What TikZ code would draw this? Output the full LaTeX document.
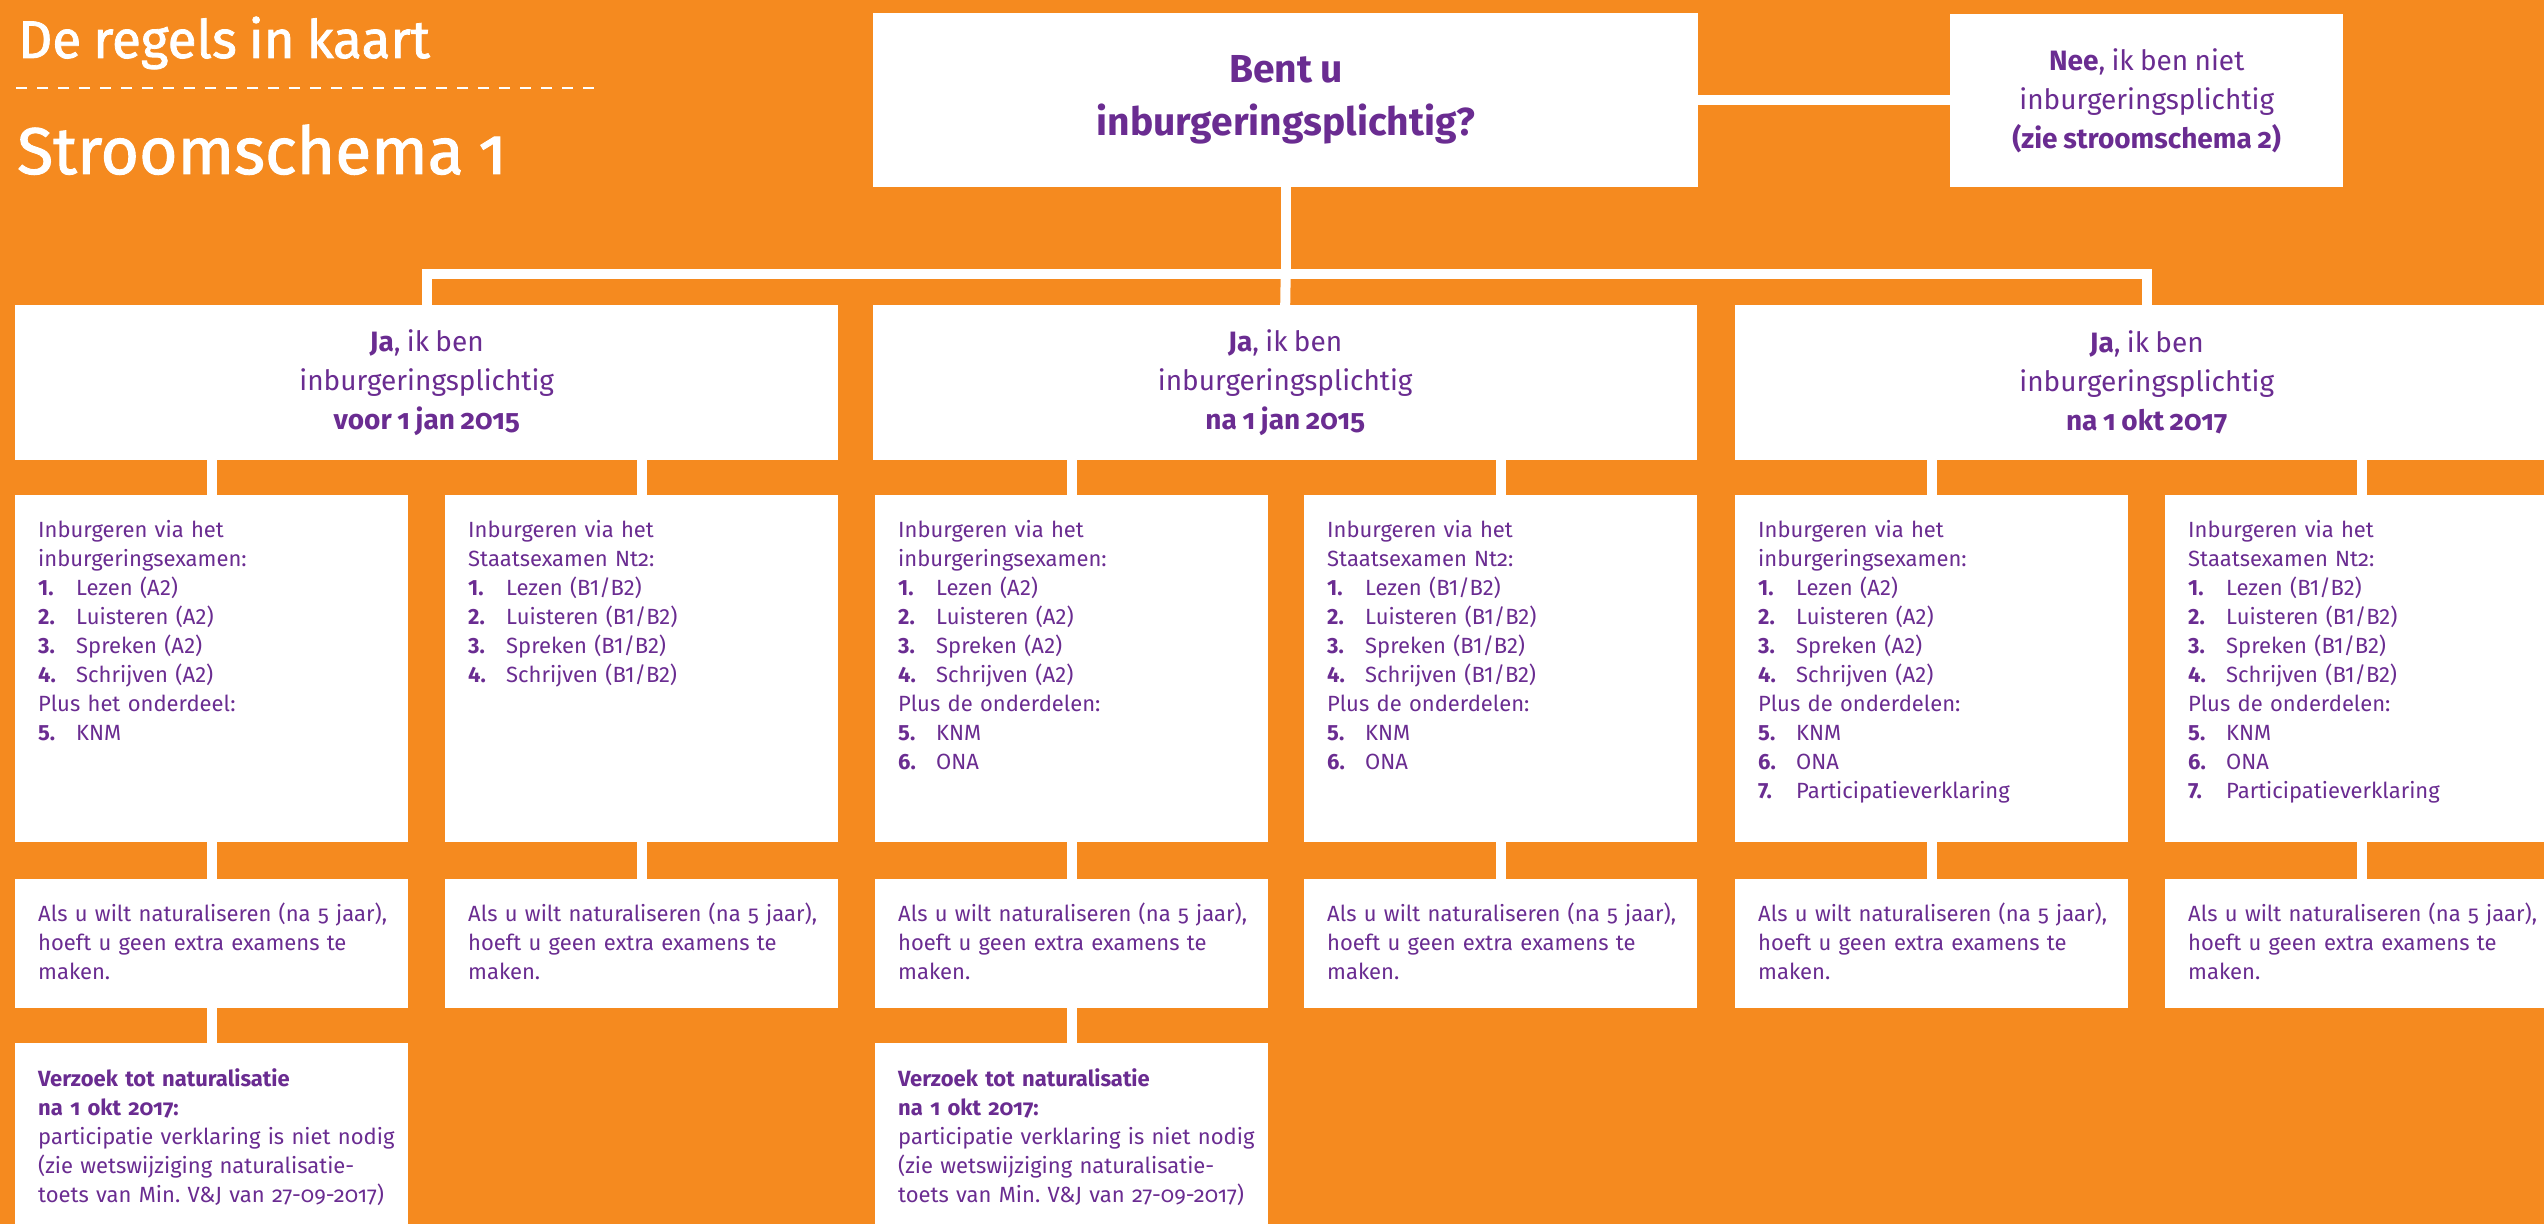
\documentclass[tikz,border=0pt]{standalone}
\usepackage{fontspec}
\setmainfont{Fira Sans}[Numbers=Lining, WordSpace=0.85]
\usetikzlibrary{positioning}
\definecolor{oranje}{HTML}{F58A1F}
\definecolor{paars}{HTML}{6A2C91}
\newcommand{\osf}[1]{{\addfontfeatures{Numbers=OldStyle}#1}}
\newcommand{\nr}[1]{\makebox[38pt][l]{\textbf{#1.}}}
\newcommand{\natuur}{Als u wilt naturaliseren (na \osf{5} jaar),\\hoeft u geen extra examens te\\maken.}
\newcommand{\verzoek}{\textbf{Verzoek tot naturalisatie}\\\textbf{\osf{na 1 okt 2017:}}\\participatie verklaring is niet nodig\\(zie wetswijziging naturalisatie-\\toets van Min.\ V\&J van \osf{27-09-2017})}
\tikzset{box/.style={fill=white, anchor=north west, inner sep=0pt, minimum width=393pt}}
\tikzset{exam/.style={box, minimum height=347pt}}
\tikzset{nat/.style={box, minimum height=129pt}}
\tikzset{verz/.style={box, minimum height=200pt}}
\tikzset{kop/.style={box, minimum width=823pt, minimum height=155pt, align=center, text=paars, font=\fontsize{28}{39}\selectfont}}
\tikzset{txt/.style={inner sep=0pt, text width=375pt, align=left, text=paars, font=\fontsize{22}{29}\selectfont}}
\tikzset{link/.style={draw=white, line width=10pt}}
\tikzset{titel/.style={anchor=base west, inner sep=0pt, text=white}}

\begin{document}
\begin{tikzpicture}[x=1pt, y=1pt]
    \useasboundingbox (0,0) rectangle (2544,1224);
    \clip (0,0) rectangle (2544,1224);
    \fill[oranje] (0,0) rectangle (2544,1224);

    \node[titel, font=\addfontfeatures{FakeBold=1.5}\fontsize{53}{58}\selectfont] (kaart) at (18,1166) {De regels in kaart};
    \draw[white, line width=2pt, dash pattern=on 11pt off 10pt] (16,1136) -- (595,1136);
    \node[titel, font=\addfontfeatures{FakeBold=1.5}\fontsize{66}{72}\selectfont] (schema) at (17,1050) {Stroomschema \osf{1}};

    % vraag en nee
    \node[kop, minimum width=825pt, minimum height=174pt, font=\bfseries\fontsize{39}{53}\selectfont] (vraag) at (873,1211) {Bent u\\inburgeringsplichtig?};
    \node[kop, minimum width=393pt, minimum height=173pt] (nee) at (1950,1210) {\textbf{Nee}, ik ben niet\\inburgeringsplichtig\\\textbf{\osf{(zie stroomschema 2)}}};

    % ja
    \node[kop] (ja1) at (15,919) {\textbf{Ja}, ik ben\\inburgeringsplichtig\\\textbf{\osf{voor 1 jan 2015}}};
    \node[kop, minimum width=824pt] (ja2) at (873,919) {\textbf{Ja}, ik ben\\inburgeringsplichtig\\\textbf{\osf{na 1 jan 2015}}};
    \node[kop] (ja3) at (1735,919) {\textbf{Ja}, ik ben\\inburgeringsplichtig\\\textbf{\osf{na 1 okt 2017}}};

    % examens
    \node[exam] (ex1) at (15,729) {};
    \node[exam] (nt1) at (445,729) {};
    \node[exam] (ex2) at (875,729) {};
    \node[exam] (nt2) at (1304,729) {};
    \node[exam] (ex3) at (1735,729) {};
    \node[exam] (nt3) at (2165,729) {};

    \node[txt, below right=25pt and 23pt of ex1.north west] (ex1t) {Inburgeren via het\\inburgeringsexamen:\\\nr{1}Lezen (A2)\\\nr{2}Luisteren (A2)\\\nr{3}Spreken (A2)\\\nr{4}Schrijven (A2)\\Plus het onderdeel:\\\nr{5}KNM};
    \node[txt, below right=25pt and 23pt of nt1.north west] (nt1t) {Inburgeren via het\\Staatsexamen Nt\osf{2}:\\\nr{1}Lezen (B1/B2)\\\nr{2}Luisteren (B1/B2)\\\nr{3}Spreken (B1/B2)\\\nr{4}Schrijven (B1/B2)};
    \node[txt, below right=25pt and 23pt of ex2.north west] (ex2t) {Inburgeren via het\\inburgeringsexamen:\\\nr{1}Lezen (A2)\\\nr{2}Luisteren (A2)\\\nr{3}Spreken (A2)\\\nr{4}Schrijven (A2)\\Plus de onderdelen:\\\nr{5}KNM\\\nr{6}ONA};
    \node[txt, below right=25pt and 23pt of nt2.north west] (nt2t) {Inburgeren via het\\Staatsexamen Nt\osf{2}:\\\nr{1}Lezen (B1/B2)\\\nr{2}Luisteren (B1/B2)\\\nr{3}Spreken (B1/B2)\\\nr{4}Schrijven (B1/B2)\\Plus de onderdelen:\\\nr{5}KNM\\\nr{6}ONA};
    \node[txt, below right=25pt and 23pt of ex3.north west] (ex3t) {Inburgeren via het\\inburgeringsexamen:\\\nr{1}Lezen (A2)\\\nr{2}Luisteren (A2)\\\nr{3}Spreken (A2)\\\nr{4}Schrijven (A2)\\Plus de onderdelen:\\\nr{5}KNM\\\nr{6}ONA\\\nr{7}Participatieverklaring};
    \node[txt, below right=25pt and 23pt of nt3.north west] (nt3t) {Inburgeren via het\\Staatsexamen Nt\osf{2}:\\\nr{1}Lezen (B1/B2)\\\nr{2}Luisteren (B1/B2)\\\nr{3}Spreken (B1/B2)\\\nr{4}Schrijven (B1/B2)\\Plus de onderdelen:\\\nr{5}KNM\\\nr{6}ONA\\\nr{7}Participatieverklaring};

    % naturaliseren
    \node[nat] (nat1) at (15,345) {};
    \node[nat] (nat2) at (445,345) {};
    \node[nat] (nat3) at (875,345) {};
    \node[nat] (nat4) at (1304,345) {};
    \node[nat] (nat5) at (1735,345) {};
    \node[nat] (nat6) at (2165,345) {};

    \node[txt, below right=24pt and 23pt of nat1.north west] (nat1t) {\natuur};
    \node[txt, below right=24pt and 23pt of nat2.north west] (nat2t) {\natuur};
    \node[txt, below right=24pt and 23pt of nat3.north west] (nat3t) {\natuur};
    \node[txt, below right=24pt and 23pt of nat4.north west] (nat4t) {\natuur};
    \node[txt, below right=24pt and 23pt of nat5.north west] (nat5t) {\natuur};
    \node[txt, below right=24pt and 23pt of nat6.north west] (nat6t) {\natuur};

    % verzoek
    \node[verz] (vz1) at (15,181) {};
    \node[verz] (vz2) at (875,181) {};
    \node[txt, below right=25pt and 23pt of vz1.north west] (vz1t) {\verzoek};
    \node[txt, below right=25pt and 23pt of vz2.north west] (vz2t) {\verzoek};

    % lijnen
    \draw[link] (vraag.east) -- (vraag.east -| nee.west);
    \draw[link] (vraag.south) -- ++(0,-87) coordinate (tak);
    \draw[link] (ja1.north) |- (tak) -| (ja3.north);
    \draw[link] (tak) -- (ja2.north);

    \draw[link] (ja1.south -| ex1.north) -- (ex1.north);
    \draw[link] (ja1.south -| nt1.north) -- (nt1.north);
    \draw[link] (ja2.south -| ex2.north) -- (ex2.north);
    \draw[link] (ja2.south -| nt2.north) -- (nt2.north);
    \draw[link] (ja3.south -| ex3.north) -- (ex3.north);
    \draw[link] (ja3.south -| nt3.north) -- (nt3.north);

    \draw[link] (ex1.south) -- (nat1.north);
    \draw[link] (nt1.south) -- (nat2.north);
    \draw[link] (ex2.south) -- (nat3.north);
    \draw[link] (nt2.south) -- (nat4.north);
    \draw[link] (ex3.south) -- (nat5.north);
    \draw[link] (nt3.south) -- (nat6.north);

    \draw[link] (nat1.south) -- (vz1.north);
    \draw[link] (nat3.south) -- (vz2.north);
\end{tikzpicture}
\end{document}
